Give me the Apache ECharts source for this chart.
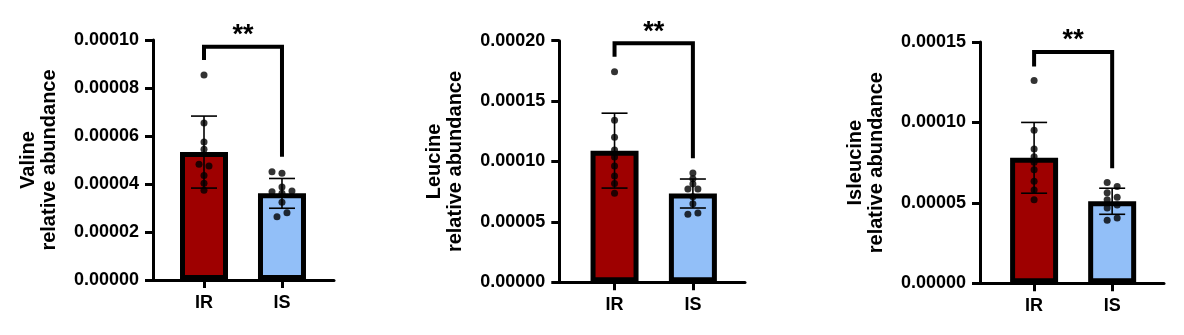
<!DOCTYPE html>
<html>
<head>
<meta charset="utf-8">
<script src="https://cdn.jsdelivr.net/npm/echarts@6/dist/echarts.min.js"></script>
<style>
html,body{margin:0;padding:0;background:#fff;}
#c{width:1184px;height:335px;}
</style>
</head>
<body>
<div id="c"></div>
<script>
// ---- data ----
const categories = ['IR', 'IS'];
const metabolites = ['Valine', 'Leucine', 'Isleucine'];
const yMax = [0.0001, 0.0002, 0.00015];
const yInterval = [0.00002, 0.00005, 0.00005];

// individual points (relative abundance)
const valineIR = [8.54e-5, 6.54e-5, 5.75e-5, 5.45e-5, 4.82e-5, 4.75e-5, 4.35e-5, 4.03e-5, 3.74e-5];
const valineIS = [4.51e-5, 4.45e-5, 3.875e-5, 3.68e-5, 3.71e-5, 3.61e-5, 3.24e-5, 2.80e-5, 2.64e-5];
const leucineIR = [1.742e-4, 1.342e-4, 1.201e-4, 1.096e-4, 1.038e-4, 0.963e-4, 0.880e-4, 0.817e-4, 0.737e-4];
const leucineIS = [0.905e-4, 0.858e-4, 0.814e-4, 0.773e-4, 0.773e-4, 0.709e-4, 0.651e-4, 0.574e-4, 0.563e-4];
const isleucineIR = [12.60e-5, 9.51e-5, 8.35e-5, 7.87e-5, 7.52e-5, 7.06e-5, 6.34e-5, 5.80e-5, 5.20e-5];
const isleucineIS = [6.26e-5, 6.01e-5, 5.63e-5, 5.35e-5, 5.20e-5, 4.87e-5, 4.68e-5, 4.06e-5, 3.92e-5];

// horizontal jitter steps of each point
const valineIRJit = [0, 0, 0, 0, -1, 1, 0, 0, 0];
const valineISJit = [-2, 0, 0, -2, 2, 0, 0, 1, -1];
const leucineIRJit = [0, 0, 0, 0, 0, 0, 0, 0, 0];
const leucineISJit = [0, 0, 0, -1, 1, 0, 0, 1, -1];
const isleucineIRJit = [0, 0, 0, 0, 0, 0, 0, 0, 0];
const isleucineISJit = [-1, 1, -1, 1, -1, 1, -1, 1, -1];

// bar means and SD
const valineMean = [5.33e-5, 3.61e-5];
const valineSD = [1.50e-5, 0.62e-5];
const leucineMean = [1.09e-4, 0.735e-4];
const leucineSD = [0.31e-4, 0.12e-4];
const isleucineMean = [7.80e-5, 5.10e-5];
const isleucineSD = [2.20e-5, 0.81e-5];

// significance brackets: [top, left leg end, right leg end]
const valineSig = [9.72e-5, 9.17e-5, 5.14e-5];
const leucineSig = [1.979e-4, 1.868e-4, 1.027e-4];
const isleucineSig = [14.38e-5, 13.47e-5, 7.15e-5];
const sigLabel = '**';

// ---- layout ----
const gridBoxes = [
  {left: 153, top: 40, width: 181, height: 240},
  {left: 559.3, top: 40.7, width: 185.7, height: 241.6},
  {left: 980, top: 42, width: 184, height: 241.3}
];
const xRanges = [[0.346, 2.667], [0.295, 2.665], [0.307, 2.664]];
const jitterStep = 0.064;
const barColors = ['#9E0000', '#92BFF8'];
const FONT = 'Liberation Sans, Arial, sans-serif';

const panels = [
  {ir: valineIR, is: valineIS, irJ: valineIRJit, isJ: valineISJit, mean: valineMean, sd: valineSD, sig: valineSig},
  {ir: leucineIR, is: leucineIS, irJ: leucineIRJit, isJ: leucineISJit, mean: leucineMean, sd: leucineSD, sig: leucineSig},
  {ir: isleucineIR, is: isleucineIS, irJ: isleucineIRJit, isJ: isleucineISJit, mean: isleucineMean, sd: isleucineSD, sig: isleucineSig}
];

const grid = [], xAxis = [], yAxis = [], series = [];
panels.forEach((p, i) => {
  grid.push(Object.assign({containLabel: false}, gridBoxes[i]));
  xAxis.push({
    type: 'value', gridIndex: i, min: xRanges[i][0], max: xRanges[i][1],
    axisLine: {show: true, onZero: false, lineStyle: {color: '#000', width: 3}},
    axisTick: {show: true, customValues: [1, 2], length: 8, lineStyle: {color: '#000', width: 3}},
    axisLabel: {show: true, customValues: [1, 2], margin: 14, color: '#000', fontFamily: FONT,
      fontWeight: 'bold', fontSize: 18, formatter: v => categories[Math.round(v) - 1] || ''},
    splitLine: {show: false}
  });
  yAxis.push({
    type: 'value', gridIndex: i, min: 0, max: yMax[i], interval: yInterval[i],
    name: metabolites[i] + '\nrelative abundance', nameLocation: 'middle', nameRotate: 90, nameGap: 93,
    nameTextStyle: {color: '#000', fontFamily: FONT, fontWeight: 'bold', fontSize: 20, lineHeight: 21},
    axisLine: {show: true, lineStyle: {color: '#000', width: 3}},
    axisTick: {show: true, length: 8, lineStyle: {color: '#000', width: 3}},
    axisLabel: {margin: 14, color: '#000', fontFamily: FONT, fontWeight: 'bold', fontSize: 18,
      formatter: v => v.toFixed(5)},
    splitLine: {show: false}
  });
  // bars
  series.push({
    type: 'bar', xAxisIndex: i, yAxisIndex: i, barWidth: 48, z: 2,
    data: p.mean.map((m, k) => ({value: [k + 1, m], itemStyle: {color: barColors[k]}})),
    itemStyle: {borderColor: '#000', borderWidth: 5}
  });
  // error bars
  series.push({
    type: 'custom', xAxisIndex: i, yAxisIndex: i, z: 3,
    data: p.mean.map((m, k) => [k + 1, m, p.sd[k]]),
    renderItem: (params, api) => {
      const x = api.value(0), m = api.value(1), s = api.value(2);
      const top = api.coord([x, m + s]), bot = api.coord([x, m - s]);
      const style = {stroke: '#000', lineWidth: 1.6};
      const cap = 13;
      return {type: 'group', children: [
        {type: 'line', shape: {x1: top[0], y1: top[1], x2: bot[0], y2: bot[1]}, style},
        {type: 'line', shape: {x1: top[0] - cap, y1: top[1], x2: top[0] + cap, y2: top[1]}, style},
        {type: 'line', shape: {x1: bot[0] - cap, y1: bot[1], x2: bot[0] + cap, y2: bot[1]}, style}
      ]};
    }
  });
  // dots
  const pts = [];
  p.ir.forEach((v, k) => pts.push([1 + p.irJ[k] * jitterStep, v]));
  p.is.forEach((v, k) => pts.push([2 + p.isJ[k] * jitterStep, v]));
  series.push({
    type: 'scatter', xAxisIndex: i, yAxisIndex: i, z: 4, symbolSize: 7,
    itemStyle: {color: '#000'}, data: pts
  });
  // significance bracket
  series.push({
    type: 'custom', xAxisIndex: i, yAxisIndex: i, z: 5, clip: false,
    data: [[1, 2, p.sig[0], p.sig[1], p.sig[2]]],
    renderItem: (params, api) => {
      const x1 = api.value(0), x2 = api.value(1);
      const a = api.coord([x1, api.value(3)]), b = api.coord([x1, api.value(2)]);
      const c = api.coord([x2, api.value(2)]), d = api.coord([x2, api.value(4)]);
      return {type: 'group', children: [
        {type: 'polyline', shape: {points: [a, b, c, d]},
          style: {stroke: '#000', lineWidth: 4, fill: null, lineJoin: 'miter'}},
        {type: 'text', x: (b[0] + c[0]) / 2, y: b[1] - 11,
          style: {text: sigLabel, fill: '#000', font: 'bold 27px ' + FONT, align: 'center', verticalAlign: 'middle'}}
      ]};
    }
  });
});

const chart = echarts.init(document.getElementById('c'), null, {renderer: 'canvas'});
chart.setOption({animation: false, backgroundColor: '#fff', grid, xAxis, yAxis, series});
</script>
</body>
</html>
